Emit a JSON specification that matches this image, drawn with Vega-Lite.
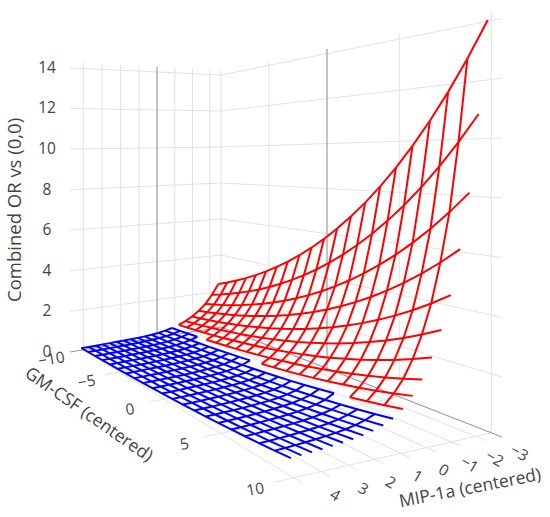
{
  "$schema": "https://vega.github.io/schema/vega-lite/v6.json",
  "width": 550,
  "height": 517,
  "padding": 0,
  "autosize": {"type": "none"},
  "background": "white",
  "config": {"view": {"stroke": null}},
  "datasets": {
    "surf": [
      {"g":-10,"m":-3.5,"o":2.411},{"g":-9,"m":-3.5,"o":2.632},{"g":-8,"m":-3.5,"o":2.875},{"g":-7,"m":-3.5,"o":3.139},{"g":-6,"m":-3.5,"o":3.428},{"g":-5,"m":-3.5,"o":3.743},{"g":-4,"m":-3.5,"o":4.088},{"g":-3,"m":-3.5,"o":4.464},{"g":-2,"m":-3.5,"o":4.874},{"g":-1,"m":-3.5,"o":5.323},{"g":0,"m":-3.5,"o":5.812},{"g":1,"m":-3.5,"o":6.347},{"g":2,"m":-3.5,"o":6.930},{"g":3,"m":-3.5,"o":7.568},{"g":4,"m":-3.5,"o":8.264},{"g":5,"m":-3.5,"o":9.024},{"g":6,"m":-3.5,"o":9.854},{"g":7,"m":-3.5,"o":10.761},{"g":8,"m":-3.5,"o":11.751},{"g":9,"m":-3.5,"o":12.832},{"g":10,"m":-3.5,"o":14.012},
      {"g":-10,"m":-3.12,"o":1.859},{"g":-9,"m":-3.12,"o":2.030},{"g":-8,"m":-3.12,"o":2.217},{"g":-7,"m":-3.12,"o":2.421},{"g":-6,"m":-3.12,"o":2.643},{"g":-5,"m":-3.12,"o":2.886},{"g":-4,"m":-3.12,"o":3.152},{"g":-3,"m":-3.12,"o":3.442},{"g":-2,"m":-3.12,"o":3.759},{"g":-1,"m":-3.12,"o":4.105},{"g":0,"m":-3.12,"o":4.482},{"g":1,"m":-3.12,"o":4.894},{"g":2,"m":-3.12,"o":5.344},{"g":3,"m":-3.12,"o":5.836},{"g":4,"m":-3.12,"o":6.373},{"g":5,"m":-3.12,"o":6.959},{"g":6,"m":-3.12,"o":7.599},{"g":7,"m":-3.12,"o":8.298},{"g":8,"m":-3.12,"o":9.062},{"g":9,"m":-3.12,"o":9.895},{"g":10,"m":-3.12,"o":10.806},
      {"g":-10,"m":-2.74,"o":1.405},{"g":-9,"m":-2.74,"o":1.534},{"g":-8,"m":-2.74,"o":1.675},{"g":-7,"m":-2.74,"o":1.829},{"g":-6,"m":-2.74,"o":1.998},{"g":-5,"m":-2.74,"o":2.181},{"g":-4,"m":-2.74,"o":2.382},{"g":-3,"m":-2.74,"o":2.601},{"g":-2,"m":-2.74,"o":2.840},{"g":-1,"m":-2.74,"o":3.102},{"g":0,"m":-2.74,"o":3.387},{"g":1,"m":-2.74,"o":3.699},{"g":2,"m":-2.74,"o":4.039},{"g":3,"m":-2.74,"o":4.410},{"g":4,"m":-2.74,"o":4.816},{"g":5,"m":-2.74,"o":5.259},{"g":6,"m":-2.74,"o":5.743},{"g":7,"m":-2.74,"o":6.271},{"g":8,"m":-2.74,"o":6.848},{"g":9,"m":-2.74,"o":7.478},{"g":10,"m":-2.74,"o":8.166},
      {"g":-10,"m":-2.36,"o":1.083},{"g":-9,"m":-2.36,"o":1.183},{"g":-8,"m":-2.36,"o":1.292},{"g":-7,"m":-2.36,"o":1.411},{"g":-6,"m":-2.36,"o":1.541},{"g":-5,"m":-2.36,"o":1.682},{"g":-4,"m":-2.36,"o":1.837},{"g":-3,"m":-2.36,"o":2.006},{"g":-2,"m":-2.36,"o":2.190},{"g":-1,"m":-2.36,"o":2.392},{"g":0,"m":-2.36,"o":2.612},{"g":1,"m":-2.36,"o":2.852},{"g":2,"m":-2.36,"o":3.115},{"g":3,"m":-2.36,"o":3.401},{"g":4,"m":-2.36,"o":3.714},{"g":5,"m":-2.36,"o":4.056},{"g":6,"m":-2.36,"o":4.429},{"g":7,"m":-2.36,"o":4.836},{"g":8,"m":-2.36,"o":5.281},{"g":9,"m":-2.36,"o":5.767},{"g":10,"m":-2.36,"o":6.297},
      {"g":-10,"m":-1.98,"o":0.827},{"g":-9,"m":-1.98,"o":0.903},{"g":-8,"m":-1.98,"o":0.986},{"g":-7,"m":-1.98,"o":1.077},{"g":-6,"m":-1.98,"o":1.176},{"g":-5,"m":-1.98,"o":1.284},{"g":-4,"m":-1.98,"o":1.402},{"g":-3,"m":-1.98,"o":1.531},{"g":-2,"m":-1.98,"o":1.672},{"g":-1,"m":-1.98,"o":1.826},{"g":0,"m":-1.98,"o":1.994},{"g":1,"m":-1.98,"o":2.177},{"g":2,"m":-1.98,"o":2.378},{"g":3,"m":-1.98,"o":2.596},{"g":4,"m":-1.98,"o":2.835},{"g":5,"m":-1.98,"o":3.096},{"g":6,"m":-1.98,"o":3.381},{"g":7,"m":-1.98,"o":3.692},{"g":8,"m":-1.98,"o":4.031},{"g":9,"m":-1.98,"o":4.402},{"g":10,"m":-1.98,"o":4.807},
      {"g":-10,"m":-1.6,"o":0.638},{"g":-9,"m":-1.6,"o":0.696},{"g":-8,"m":-1.6,"o":0.760},{"g":-7,"m":-1.6,"o":0.830},{"g":-6,"m":-1.6,"o":0.907},{"g":-5,"m":-1.6,"o":0.990},{"g":-4,"m":-1.6,"o":1.081},{"g":-3,"m":-1.6,"o":1.180},{"g":-2,"m":-1.6,"o":1.289},{"g":-1,"m":-1.6,"o":1.408},{"g":0,"m":-1.6,"o":1.537},{"g":1,"m":-1.6,"o":1.678},{"g":2,"m":-1.6,"o":1.833},{"g":3,"m":-1.6,"o":2.001},{"g":4,"m":-1.6,"o":2.185},{"g":5,"m":-1.6,"o":2.386},{"g":6,"m":-1.6,"o":2.606},{"g":7,"m":-1.6,"o":2.846},{"g":8,"m":-1.6,"o":3.107},{"g":9,"m":-1.6,"o":3.393},{"g":10,"m":-1.6,"o":3.706},
      {"g":-10,"m":-1.22,"o":0.492},{"g":-9,"m":-1.22,"o":0.537},{"g":-8,"m":-1.22,"o":0.586},{"g":-7,"m":-1.22,"o":0.640},{"g":-6,"m":-1.22,"o":0.699},{"g":-5,"m":-1.22,"o":0.763},{"g":-4,"m":-1.22,"o":0.833},{"g":-3,"m":-1.22,"o":0.910},{"g":-2,"m":-1.22,"o":0.994},{"g":-1,"m":-1.22,"o":1.085},{"g":0,"m":-1.22,"o":1.185},{"g":1,"m":-1.22,"o":1.294},{"g":2,"m":-1.22,"o":1.413},{"g":3,"m":-1.22,"o":1.543},{"g":4,"m":-1.22,"o":1.685},{"g":5,"m":-1.22,"o":1.840},{"g":6,"m":-1.22,"o":2.009},{"g":7,"m":-1.22,"o":2.194},{"g":8,"m":-1.22,"o":2.396},{"g":9,"m":-1.22,"o":2.616},{"g":10,"m":-1.22,"o":2.857},
      {"g":-10,"m":-0.84,"o":0.379},{"g":-9,"m":-0.84,"o":0.414},{"g":-8,"m":-0.84,"o":0.452},{"g":-7,"m":-0.84,"o":0.494},{"g":-6,"m":-0.84,"o":0.539},{"g":-5,"m":-0.84,"o":0.589},{"g":-4,"m":-0.84,"o":0.643},{"g":-3,"m":-0.84,"o":0.702},{"g":-2,"m":-0.84,"o":0.766},{"g":-1,"m":-0.84,"o":0.837},{"g":0,"m":-0.84,"o":0.914},{"g":1,"m":-0.84,"o":0.998},{"g":2,"m":-0.84,"o":1.090},{"g":3,"m":-0.84,"o":1.190},{"g":4,"m":-0.84,"o":1.300},{"g":5,"m":-0.84,"o":1.419},{"g":6,"m":-0.84,"o":1.550},{"g":7,"m":-0.84,"o":1.692},{"g":8,"m":-0.84,"o":1.848},{"g":9,"m":-0.84,"o":2.018},{"g":10,"m":-0.84,"o":2.204},
      {"g":-10,"m":-0.46,"o":0.298},{"g":-9,"m":-0.46,"o":0.326},{"g":-8,"m":-0.46,"o":0.356},{"g":-7,"m":-0.46,"o":0.388},{"g":-6,"m":-0.46,"o":0.424},{"g":-5,"m":-0.46,"o":0.463},{"g":-4,"m":-0.46,"o":0.506},{"g":-3,"m":-0.46,"o":0.552},{"g":-2,"m":-0.46,"o":0.603},{"g":-1,"m":-0.46,"o":0.658},{"g":0,"m":-0.46,"o":0.719},{"g":1,"m":-0.46,"o":0.785},{"g":2,"m":-0.46,"o":0.857},{"g":3,"m":-0.46,"o":0.936},{"g":4,"m":-0.46,"o":1.022},{"g":5,"m":-0.46,"o":1.116},{"g":6,"m":-0.46,"o":1.219},{"g":7,"m":-0.46,"o":1.331},{"g":8,"m":-0.46,"o":1.454},{"g":9,"m":-0.46,"o":1.587},{"g":10,"m":-0.46,"o":1.733},
      {"g":-10,"m":-0.08,"o":0.237},{"g":-9,"m":-0.08,"o":0.259},{"g":-8,"m":-0.08,"o":0.282},{"g":-7,"m":-0.08,"o":0.308},{"g":-6,"m":-0.08,"o":0.337},{"g":-5,"m":-0.08,"o":0.368},{"g":-4,"m":-0.08,"o":0.402},{"g":-3,"m":-0.08,"o":0.439},{"g":-2,"m":-0.08,"o":0.479},{"g":-1,"m":-0.08,"o":0.523},{"g":0,"m":-0.08,"o":0.571},{"g":1,"m":-0.08,"o":0.624},{"g":2,"m":-0.08,"o":0.681},{"g":3,"m":-0.08,"o":0.744},{"g":4,"m":-0.08,"o":0.812},{"g":5,"m":-0.08,"o":0.887},{"g":6,"m":-0.08,"o":0.968},{"g":7,"m":-0.08,"o":1.057},{"g":8,"m":-0.08,"o":1.154},{"g":9,"m":-0.08,"o":1.261},{"g":10,"m":-0.08,"o":1.377},
      {"g":-10,"m":0.3,"o":0.194},{"g":-9,"m":0.3,"o":0.212},{"g":-8,"m":0.3,"o":0.231},{"g":-7,"m":0.3,"o":0.253},{"g":-6,"m":0.3,"o":0.276},{"g":-5,"m":0.3,"o":0.301},{"g":-4,"m":0.3,"o":0.329},{"g":-3,"m":0.3,"o":0.359},{"g":-2,"m":0.3,"o":0.392},{"g":-1,"m":0.3,"o":0.429},{"g":0,"m":0.3,"o":0.468},{"g":1,"m":0.3,"o":0.511},{"g":2,"m":0.3,"o":0.558},{"g":3,"m":0.3,"o":0.609},{"g":4,"m":0.3,"o":0.665},{"g":5,"m":0.3,"o":0.727},{"g":6,"m":0.3,"o":0.793},{"g":7,"m":0.3,"o":0.866},{"g":8,"m":0.3,"o":0.946},{"g":9,"m":0.3,"o":1.033},{"g":10,"m":0.3,"o":1.128},
      {"g":-10,"m":0.68,"o":0.169},{"g":-9,"m":0.68,"o":0.184},{"g":-8,"m":0.68,"o":0.201},{"g":-7,"m":0.68,"o":0.220},{"g":-6,"m":0.68,"o":0.240},{"g":-5,"m":0.68,"o":0.262},{"g":-4,"m":0.68,"o":0.286},{"g":-3,"m":0.68,"o":0.313},{"g":-2,"m":0.68,"o":0.341},{"g":-1,"m":0.68,"o":0.373},{"g":0,"m":0.68,"o":0.407},{"g":1,"m":0.68,"o":0.444},{"g":2,"m":0.68,"o":0.485},{"g":3,"m":0.68,"o":0.530},{"g":4,"m":0.68,"o":0.579},{"g":5,"m":0.68,"o":0.632},{"g":6,"m":0.68,"o":0.690},{"g":7,"m":0.68,"o":0.754},{"g":8,"m":0.68,"o":0.823},{"g":9,"m":0.68,"o":0.899},{"g":10,"m":0.68,"o":0.981},
      {"g":-10,"m":1.06,"o":0.151},{"g":-9,"m":1.06,"o":0.165},{"g":-8,"m":1.06,"o":0.180},{"g":-7,"m":1.06,"o":0.197},{"g":-6,"m":1.06,"o":0.215},{"g":-5,"m":1.06,"o":0.234},{"g":-4,"m":1.06,"o":0.256},{"g":-3,"m":1.06,"o":0.280},{"g":-2,"m":1.06,"o":0.305},{"g":-1,"m":1.06,"o":0.333},{"g":0,"m":1.06,"o":0.364},{"g":1,"m":1.06,"o":0.397},{"g":2,"m":1.06,"o":0.434},{"g":3,"m":1.06,"o":0.474},{"g":4,"m":1.06,"o":0.518},{"g":5,"m":1.06,"o":0.565},{"g":6,"m":1.06,"o":0.617},{"g":7,"m":1.06,"o":0.674},{"g":8,"m":1.06,"o":0.736},{"g":9,"m":1.06,"o":0.804},{"g":10,"m":1.06,"o":0.878},
      {"g":-10,"m":1.44,"o":0.138},{"g":-9,"m":1.44,"o":0.151},{"g":-8,"m":1.44,"o":0.165},{"g":-7,"m":1.44,"o":0.180},{"g":-6,"m":1.44,"o":0.196},{"g":-5,"m":1.44,"o":0.214},{"g":-4,"m":1.44,"o":0.234},{"g":-3,"m":1.44,"o":0.256},{"g":-2,"m":1.44,"o":0.279},{"g":-1,"m":1.44,"o":0.305},{"g":0,"m":1.44,"o":0.333},{"g":1,"m":1.44,"o":0.364},{"g":2,"m":1.44,"o":0.397},{"g":3,"m":1.44,"o":0.434},{"g":4,"m":1.44,"o":0.473},{"g":5,"m":1.44,"o":0.517},{"g":6,"m":1.44,"o":0.565},{"g":7,"m":1.44,"o":0.617},{"g":8,"m":1.44,"o":0.673},{"g":9,"m":1.44,"o":0.735},{"g":10,"m":1.44,"o":0.803},
      {"g":-10,"m":1.82,"o":0.129},{"g":-9,"m":1.82,"o":0.140},{"g":-8,"m":1.82,"o":0.153},{"g":-7,"m":1.82,"o":0.167},{"g":-6,"m":1.82,"o":0.183},{"g":-5,"m":1.82,"o":0.200},{"g":-4,"m":1.82,"o":0.218},{"g":-3,"m":1.82,"o":0.238},{"g":-2,"m":1.82,"o":0.260},{"g":-1,"m":1.82,"o":0.284},{"g":0,"m":1.82,"o":0.310},{"g":1,"m":1.82,"o":0.339},{"g":2,"m":1.82,"o":0.370},{"g":3,"m":1.82,"o":0.404},{"g":4,"m":1.82,"o":0.441},{"g":5,"m":1.82,"o":0.481},{"g":6,"m":1.82,"o":0.526},{"g":7,"m":1.82,"o":0.574},{"g":8,"m":1.82,"o":0.627},{"g":9,"m":1.82,"o":0.684},{"g":10,"m":1.82,"o":0.747},
      {"g":-10,"m":2.2,"o":0.121},{"g":-9,"m":2.2,"o":0.132},{"g":-8,"m":2.2,"o":0.144},{"g":-7,"m":2.2,"o":0.158},{"g":-6,"m":2.2,"o":0.172},{"g":-5,"m":2.2,"o":0.188},{"g":-4,"m":2.2,"o":0.205},{"g":-3,"m":2.2,"o":0.224},{"g":-2,"m":2.2,"o":0.245},{"g":-1,"m":2.2,"o":0.267},{"g":0,"m":2.2,"o":0.292},{"g":1,"m":2.2,"o":0.319},{"g":2,"m":2.2,"o":0.348},{"g":3,"m":2.2,"o":0.380},{"g":4,"m":2.2,"o":0.415},{"g":5,"m":2.2,"o":0.453},{"g":6,"m":2.2,"o":0.495},{"g":7,"m":2.2,"o":0.541},{"g":8,"m":2.2,"o":0.590},{"g":9,"m":2.2,"o":0.645},{"g":10,"m":2.2,"o":0.704},
      {"g":-10,"m":2.58,"o":0.115},{"g":-9,"m":2.58,"o":0.126},{"g":-8,"m":2.58,"o":0.137},{"g":-7,"m":2.58,"o":0.150},{"g":-6,"m":2.58,"o":0.164},{"g":-5,"m":2.58,"o":0.179},{"g":-4,"m":2.58,"o":0.196},{"g":-3,"m":2.58,"o":0.214},{"g":-2,"m":2.58,"o":0.233},{"g":-1,"m":2.58,"o":0.255},{"g":0,"m":2.58,"o":0.278},{"g":1,"m":2.58,"o":0.304},{"g":2,"m":2.58,"o":0.331},{"g":3,"m":2.58,"o":0.362},{"g":4,"m":2.58,"o":0.395},{"g":5,"m":2.58,"o":0.432},{"g":6,"m":2.58,"o":0.471},{"g":7,"m":2.58,"o":0.515},{"g":8,"m":2.58,"o":0.562},{"g":9,"m":2.58,"o":0.614},{"g":10,"m":2.58,"o":0.670},
      {"g":-10,"m":2.96,"o":0.110},{"g":-9,"m":2.96,"o":0.120},{"g":-8,"m":2.96,"o":0.131},{"g":-7,"m":2.96,"o":0.143},{"g":-6,"m":2.96,"o":0.156},{"g":-5,"m":2.96,"o":0.170},{"g":-4,"m":2.96,"o":0.186},{"g":-3,"m":2.96,"o":0.203},{"g":-2,"m":2.96,"o":0.221},{"g":-1,"m":2.96,"o":0.242},{"g":0,"m":2.96,"o":0.264},{"g":1,"m":2.96,"o":0.288},{"g":2,"m":2.96,"o":0.315},{"g":3,"m":2.96,"o":0.344},{"g":4,"m":2.96,"o":0.375},{"g":5,"m":2.96,"o":0.410},{"g":6,"m":2.96,"o":0.448},{"g":7,"m":2.96,"o":0.489},{"g":8,"m":2.96,"o":0.534},{"g":9,"m":2.96,"o":0.583},{"g":10,"m":2.96,"o":0.636},
      {"g":-10,"m":3.34,"o":0.105},{"g":-9,"m":3.34,"o":0.115},{"g":-8,"m":3.34,"o":0.126},{"g":-7,"m":3.34,"o":0.137},{"g":-6,"m":3.34,"o":0.150},{"g":-5,"m":3.34,"o":0.164},{"g":-4,"m":3.34,"o":0.179},{"g":-3,"m":3.34,"o":0.195},{"g":-2,"m":3.34,"o":0.213},{"g":-1,"m":3.34,"o":0.233},{"g":0,"m":3.34,"o":0.254},{"g":1,"m":3.34,"o":0.277},{"g":2,"m":3.34,"o":0.303},{"g":3,"m":3.34,"o":0.331},{"g":4,"m":3.34,"o":0.361},{"g":5,"m":3.34,"o":0.394},{"g":6,"m":3.34,"o":0.431},{"g":7,"m":3.34,"o":0.470},{"g":8,"m":3.34,"o":0.514},{"g":9,"m":3.34,"o":0.561},{"g":10,"m":3.34,"o":0.612},
      {"g":-10,"m":3.72,"o":0.101},{"g":-9,"m":3.72,"o":0.111},{"g":-8,"m":3.72,"o":0.121},{"g":-7,"m":3.72,"o":0.132},{"g":-6,"m":3.72,"o":0.144},{"g":-5,"m":3.72,"o":0.157},{"g":-4,"m":3.72,"o":0.172},{"g":-3,"m":3.72,"o":0.187},{"g":-2,"m":3.72,"o":0.205},{"g":-1,"m":3.72,"o":0.223},{"g":0,"m":3.72,"o":0.244},{"g":1,"m":3.72,"o":0.266},{"g":2,"m":3.72,"o":0.291},{"g":3,"m":3.72,"o":0.318},{"g":4,"m":3.72,"o":0.347},{"g":5,"m":3.72,"o":0.379},{"g":6,"m":3.72,"o":0.414},{"g":7,"m":3.72,"o":0.452},{"g":8,"m":3.72,"o":0.493},{"g":9,"m":3.72,"o":0.539},{"g":10,"m":3.72,"o":0.588},
      {"g":-10,"m":4.1,"o":0.098},{"g":-9,"m":4.1,"o":0.107},{"g":-8,"m":4.1,"o":0.117},{"g":-7,"m":4.1,"o":0.128},{"g":-6,"m":4.1,"o":0.140},{"g":-5,"m":4.1,"o":0.153},{"g":-4,"m":4.1,"o":0.167},{"g":-3,"m":4.1,"o":0.182},{"g":-2,"m":4.1,"o":0.199},{"g":-1,"m":4.1,"o":0.217},{"g":0,"m":4.1,"o":0.237},{"g":1,"m":4.1,"o":0.259},{"g":2,"m":4.1,"o":0.283},{"g":3,"m":4.1,"o":0.309},{"g":4,"m":4.1,"o":0.337},{"g":5,"m":4.1,"o":0.368},{"g":6,"m":4.1,"o":0.402},{"g":7,"m":4.1,"o":0.439},{"g":8,"m":4.1,"o":0.479},{"g":9,"m":4.1,"o":0.523},{"g":10,"m":4.1,"o":0.571}
    ],
    "grid": [
      {"id":"lv-3","k":"g","g":-10,"m":-3,"z":0},{"id":"lv-3","k":"g","g":-10,"m":-3,"z":14.3},
      {"id":"lv-2","k":"g","g":-10,"m":-2,"z":0},{"id":"lv-2","k":"g","g":-10,"m":-2,"z":14.3},
      {"id":"lv-1","k":"g","g":-10,"m":-1,"z":0},{"id":"lv-1","k":"g","g":-10,"m":-1,"z":14.3},
      {"id":"lv0","k":"z","g":-10,"m":0,"z":0},{"id":"lv0","k":"z","g":-10,"m":0,"z":14.3},
      {"id":"lv1","k":"g","g":-10,"m":1,"z":0},{"id":"lv1","k":"g","g":-10,"m":1,"z":14.3},
      {"id":"lv2","k":"g","g":-10,"m":2,"z":0},{"id":"lv2","k":"g","g":-10,"m":2,"z":14.3},
      {"id":"lv3","k":"g","g":-10,"m":3,"z":0},{"id":"lv3","k":"g","g":-10,"m":3,"z":14.3},
      {"id":"lv4","k":"g","g":-10,"m":4,"z":0},{"id":"lv4","k":"g","g":-10,"m":4,"z":14.3},
      {"id":"lh0","k":"z","g":-10,"m":-3.65,"z":0},{"id":"lh0","k":"z","g":-10,"m":4.7,"z":0},
      {"id":"lh2","k":"g","g":-10,"m":-3.65,"z":2},{"id":"lh2","k":"g","g":-10,"m":4.7,"z":2},
      {"id":"lh4","k":"g","g":-10,"m":-3.65,"z":4},{"id":"lh4","k":"g","g":-10,"m":4.7,"z":4},
      {"id":"lh6","k":"g","g":-10,"m":-3.65,"z":6},{"id":"lh6","k":"g","g":-10,"m":4.7,"z":6},
      {"id":"lh8","k":"g","g":-10,"m":-3.65,"z":8},{"id":"lh8","k":"g","g":-10,"m":4.7,"z":8},
      {"id":"lh10","k":"g","g":-10,"m":-3.65,"z":10},{"id":"lh10","k":"g","g":-10,"m":4.7,"z":10},
      {"id":"lh12","k":"g","g":-10,"m":-3.65,"z":12},{"id":"lh12","k":"g","g":-10,"m":4.7,"z":12},
      {"id":"lh14","k":"g","g":-10,"m":-3.65,"z":14},{"id":"lh14","k":"g","g":-10,"m":4.7,"z":14},
      {"id":"rv-10","k":"g","g":-10,"m":-3.65,"z":0},{"id":"rv-10","k":"g","g":-10,"m":-3.65,"z":14.3},
      {"id":"rv-5","k":"g","g":-5,"m":-3.65,"z":0},{"id":"rv-5","k":"g","g":-5,"m":-3.65,"z":14.3},
      {"id":"rv0","k":"z","g":0,"m":-3.65,"z":0},{"id":"rv0","k":"z","g":0,"m":-3.65,"z":14.3},
      {"id":"rv5","k":"g","g":5,"m":-3.65,"z":0},{"id":"rv5","k":"g","g":5,"m":-3.65,"z":14.3},
      {"id":"rv10","k":"g","g":10,"m":-3.65,"z":0},{"id":"rv10","k":"g","g":10,"m":-3.65,"z":14.3},
      {"id":"rh0","k":"z","g":-10,"m":-3.65,"z":0},{"id":"rh0","k":"z","g":10.5,"m":-3.65,"z":0},
      {"id":"rh2","k":"g","g":-10,"m":-3.65,"z":2},{"id":"rh2","k":"g","g":10.5,"m":-3.65,"z":2},
      {"id":"rh4","k":"g","g":-10,"m":-3.65,"z":4},{"id":"rh4","k":"g","g":10.5,"m":-3.65,"z":4},
      {"id":"rh6","k":"g","g":-10,"m":-3.65,"z":6},{"id":"rh6","k":"g","g":10.5,"m":-3.65,"z":6},
      {"id":"rh8","k":"g","g":-10,"m":-3.65,"z":8},{"id":"rh8","k":"g","g":10.5,"m":-3.65,"z":8},
      {"id":"rh10","k":"g","g":-10,"m":-3.65,"z":10},{"id":"rh10","k":"g","g":10.5,"m":-3.65,"z":10},
      {"id":"rh12","k":"g","g":-10,"m":-3.65,"z":12},{"id":"rh12","k":"g","g":10.5,"m":-3.65,"z":12},
      {"id":"rh14","k":"g","g":-10,"m":-3.65,"z":14},{"id":"rh14","k":"g","g":10.5,"m":-3.65,"z":14},
      {"id":"fg-5","k":"g","g":-5,"m":-3.65,"z":0},{"id":"fg-5","k":"g","g":-5,"m":4.7,"z":0},
      {"id":"fg0","k":"g","g":0,"m":-3.65,"z":0},{"id":"fg0","k":"g","g":0,"m":4.7,"z":0},
      {"id":"fg5","k":"g","g":5,"m":-3.65,"z":0},{"id":"fg5","k":"g","g":5,"m":4.7,"z":0},
      {"id":"fg10","k":"g","g":10,"m":-3.65,"z":0},{"id":"fg10","k":"g","g":10,"m":4.7,"z":0},
      {"id":"fm-3","k":"g","g":-10,"m":-3,"z":0},{"id":"fm-3","k":"g","g":10.5,"m":-3,"z":0},
      {"id":"fm-2","k":"g","g":-10,"m":-2,"z":0},{"id":"fm-2","k":"g","g":10.5,"m":-2,"z":0},
      {"id":"fm-1","k":"g","g":-10,"m":-1,"z":0},{"id":"fm-1","k":"g","g":10.5,"m":-1,"z":0},
      {"id":"fm0","k":"g","g":-10,"m":0,"z":0},{"id":"fm0","k":"g","g":10.5,"m":0,"z":0},
      {"id":"fm1","k":"g","g":-10,"m":1,"z":0},{"id":"fm1","k":"g","g":10.5,"m":1,"z":0},
      {"id":"fm2","k":"g","g":-10,"m":2,"z":0},{"id":"fm2","k":"g","g":10.5,"m":2,"z":0},
      {"id":"fm3","k":"g","g":-10,"m":3,"z":0},{"id":"fm3","k":"g","g":10.5,"m":3,"z":0},
      {"id":"fm4","k":"g","g":-10,"m":4,"z":0},{"id":"fm4","k":"g","g":10.5,"m":4,"z":0}
    ]
  },
  "layer": [
    {
      "data": {"name": "grid"},
      "transform": [
        {"filter": "datum.k == 'g'"},
        {"calculate": "(datum.g + 10) / 20.5", "as": "u"},
        {"calculate": "(4.7 - datum.m) / 8.35", "as": "v"},
        {"calculate": "0.947 - 0.364 * datum.u + 0.053 * datum.v", "as": "w"},
        {"calculate": "(66.29 + 98.27 * datum.u + 154.71 * datum.v) / datum.w", "as": "px"},
        {"calculate": "(333.34 - 49.07 * datum.u - 6.34 * datum.v) / datum.w - datum.z * 18 / (0.887 - 0.398 * datum.u + 0.113 * datum.v)", "as": "py"}
      ],
      "mark": {"type": "line", "color": "#e2e2e2", "strokeWidth": 1},
      "encoding": {
        "x": {"field": "px", "type": "quantitative", "scale": {"domain": [0, 550], "nice": false, "zero": false}, "axis": null},
        "y": {"field": "py", "type": "quantitative", "scale": {"domain": [0, 517], "nice": false, "zero": false, "reverse": true}, "axis": null},
        "detail": {"field": "id", "type": "nominal"}
      }
    },
    {
      "data": {"name": "grid"},
      "transform": [
        {"filter": "datum.k == 'z'"},
        {"calculate": "(datum.g + 10) / 20.5", "as": "u"},
        {"calculate": "(4.7 - datum.m) / 8.35", "as": "v"},
        {"calculate": "0.947 - 0.364 * datum.u + 0.053 * datum.v", "as": "w"},
        {"calculate": "(66.29 + 98.27 * datum.u + 154.71 * datum.v) / datum.w", "as": "px"},
        {"calculate": "(333.34 - 49.07 * datum.u - 6.34 * datum.v) / datum.w - datum.z * 18 / (0.887 - 0.398 * datum.u + 0.113 * datum.v)", "as": "py"}
      ],
      "mark": {"type": "line", "color": "#9c9c9c", "strokeWidth": 1.2},
      "encoding": {
        "x": {"field": "px", "type": "quantitative", "scale": {"domain": [0, 550], "nice": false, "zero": false}, "axis": null},
        "y": {"field": "py", "type": "quantitative", "scale": {"domain": [0, 517], "nice": false, "zero": false, "reverse": true}, "axis": null},
        "detail": {"field": "id", "type": "nominal"}
      }
    },
    {
      "data": {"name": "surf"},
      "transform": [
        {"calculate": "datum.o", "as": "z"},
        {"calculate": "(datum.g + 10) / 20.5", "as": "u"},
        {"calculate": "(4.7 - datum.m) / 8.35", "as": "v"},
        {"calculate": "0.947 - 0.364 * datum.u + 0.053 * datum.v", "as": "w"},
        {"calculate": "(66.29 + 98.27 * datum.u + 154.71 * datum.v) / datum.w", "as": "px"},
        {"calculate": "(333.34 - 49.07 * datum.u - 6.34 * datum.v) / datum.w - datum.z * 18 / (0.887 - 0.398 * datum.u + 0.113 * datum.v)", "as": "py"},
        {"calculate": "datum.m < -0.45 + 0.057 * datum.g ? 'red' : 'blue'", "as": "zone"}
      ],
      "mark": {"type": "line", "strokeWidth": 2},
      "encoding": {
        "x": {"field": "px", "type": "quantitative", "scale": {"domain": [0, 550], "nice": false, "zero": false}, "axis": null},
        "y": {"field": "py", "type": "quantitative", "scale": {"domain": [0, 517], "nice": false, "zero": false, "reverse": true}, "axis": null},
        "color": {"field": "zone", "type": "nominal", "scale": {"domain": ["blue", "red"], "range": ["#0000ff", "#ff0000"]}, "legend": null},
        "detail": {"field": "m", "type": "nominal"},
        "order": {"field": "g", "type": "quantitative"}
      }
    },
    {
      "data": {"name": "surf"},
      "transform": [
        {"filter": "datum.g < 10"},
        {"calculate": "datum.o", "as": "z"},
        {"calculate": "(datum.g + 10) / 20.5", "as": "u"},
        {"calculate": "(4.7 - datum.m) / 8.35", "as": "v"},
        {"calculate": "0.947 - 0.364 * datum.u + 0.053 * datum.v", "as": "w"},
        {"calculate": "(66.29 + 98.27 * datum.u + 154.71 * datum.v) / datum.w", "as": "px"},
        {"calculate": "(333.34 - 49.07 * datum.u - 6.34 * datum.v) / datum.w - datum.z * 18 / (0.887 - 0.398 * datum.u + 0.113 * datum.v)", "as": "py"},
        {"calculate": "datum.m < -0.45 + 0.057 * datum.g ? 'red' : 'blue'", "as": "zone"}
      ],
      "mark": {"type": "line", "strokeWidth": 2},
      "encoding": {
        "x": {"field": "px", "type": "quantitative", "scale": {"domain": [0, 550], "nice": false, "zero": false}, "axis": null},
        "y": {"field": "py", "type": "quantitative", "scale": {"domain": [0, 517], "nice": false, "zero": false, "reverse": true}, "axis": null},
        "color": {"field": "zone", "type": "nominal", "scale": {"domain": ["blue", "red"], "range": ["#0000ff", "#ff0000"]}, "legend": null},
        "detail": {"field": "g", "type": "nominal"},
        "order": {"field": "m", "type": "quantitative"}
      }
    },
    {
      "data": {"values": [{"v":0},{"v":2},{"v":4},{"v":6},{"v":8},{"v":10},{"v":12},{"v":14}]},
      "transform": [
        {"calculate": "-10", "as": "g"},
        {"calculate": "4.7", "as": "m"},
        {"calculate": "datum.v", "as": "z"},
        {"calculate": "(datum.g + 10) / 20.5", "as": "u"},
        {"calculate": "(4.7 - datum.m) / 8.35", "as": "v2"},
        {"calculate": "0.947 - 0.364 * datum.u + 0.053 * datum.v2", "as": "w"},
        {"calculate": "(66.29 + 98.27 * datum.u + 154.71 * datum.v2) / datum.w", "as": "px"},
        {"calculate": "(333.34 - 49.07 * datum.u - 6.34 * datum.v2) / datum.w - datum.z * 18 / (0.887 - 0.398 * datum.u + 0.113 * datum.v2)", "as": "py"}
      ],
      "mark": {"type": "text", "font": "Open Sans", "fontSize": 15.5, "color": "#444444", "align": "center", "baseline": "middle", "dx": -23},
      "encoding": {
        "x": {"field": "px", "type": "quantitative", "scale": {"domain": [0, 550], "nice": false, "zero": false}, "axis": null},
        "y": {"field": "py", "type": "quantitative", "scale": {"domain": [0, 517], "nice": false, "zero": false, "reverse": true}, "axis": null},
        "text": {"field": "v", "type": "quantitative", "format": "d"}
      }
    },
    {
      "data": {"values": [{"v":-10},{"v":-5},{"v":0},{"v":5},{"v":10}]},
      "transform": [
        {"calculate": "datum.v", "as": "g"},
        {"calculate": "4.7", "as": "m"},
        {"calculate": "0", "as": "z"},
        {"calculate": "(datum.g + 10) / 20.5", "as": "u"},
        {"calculate": "(4.7 - datum.m) / 8.35", "as": "v2"},
        {"calculate": "0.947 - 0.364 * datum.u + 0.053 * datum.v2", "as": "w"},
        {"calculate": "(66.29 + 98.27 * datum.u + 154.71 * datum.v2) / datum.w", "as": "px"},
        {"calculate": "(333.34 - 49.07 * datum.u - 6.34 * datum.v2) / datum.w - datum.z * 18 / (0.887 - 0.398 * datum.u + 0.113 * datum.v2)", "as": "py"}
      ],
      "mark": {"type": "text", "font": "Open Sans", "fontSize": 15.5, "color": "#444444", "align": "center", "baseline": "middle", "angle": -10, "dx": -19.5, "dy": 4},
      "encoding": {
        "x": {"field": "px", "type": "quantitative", "scale": {"domain": [0, 550], "nice": false, "zero": false}, "axis": null},
        "y": {"field": "py", "type": "quantitative", "scale": {"domain": [0, 517], "nice": false, "zero": false, "reverse": true}, "axis": null},
        "text": {"field": "v", "type": "quantitative", "format": "d"}
      }
    },
    {
      "data": {"values": [{"v":-3},{"v":-2},{"v":-1},{"v":0},{"v":1},{"v":2},{"v":3},{"v":4}]},
      "transform": [
        {"calculate": "10.5", "as": "g"},
        {"calculate": "datum.v", "as": "m"},
        {"calculate": "0", "as": "z"},
        {"calculate": "(datum.g + 10) / 20.5", "as": "u"},
        {"calculate": "(4.7 - datum.m) / 8.35", "as": "v2"},
        {"calculate": "0.947 - 0.364 * datum.u + 0.053 * datum.v2", "as": "w"},
        {"calculate": "(66.29 + 98.27 * datum.u + 154.71 * datum.v2) / datum.w", "as": "px"},
        {"calculate": "(333.34 - 49.07 * datum.u - 6.34 * datum.v2) / datum.w - datum.z * 18 / (0.887 - 0.398 * datum.u + 0.113 * datum.v2)", "as": "py"}
      ],
      "mark": {"type": "text", "font": "Open Sans", "fontSize": 15.5, "color": "#444444", "align": "center", "baseline": "middle", "angle": 30, "dx": 34.8, "dy": -5.7},
      "encoding": {
        "x": {"field": "px", "type": "quantitative", "scale": {"domain": [0, 550], "nice": false, "zero": false}, "axis": null},
        "y": {"field": "py", "type": "quantitative", "scale": {"domain": [0, 517], "nice": false, "zero": false, "reverse": true}, "axis": null},
        "text": {"field": "v", "type": "quantitative", "format": "d"}
      }
    },
    {
      "data": {"values": [{"t": "Combined OR vs (0,0)", "g": -10, "m": 4.7, "z": 7}]},
      "transform": [
        {"calculate": "(datum.g + 10) / 20.5", "as": "u"},
        {"calculate": "(4.7 - datum.m) / 8.35", "as": "v"},
        {"calculate": "0.947 - 0.364 * datum.u + 0.053 * datum.v", "as": "w"},
        {"calculate": "(66.29 + 98.27 * datum.u + 154.71 * datum.v) / datum.w", "as": "px"},
        {"calculate": "(333.34 - 49.07 * datum.u - 6.34 * datum.v) / datum.w - datum.z * 18 / (0.887 - 0.398 * datum.u + 0.113 * datum.v)", "as": "py"}
      ],
      "mark": {"type": "text", "font": "Open Sans", "fontSize": 18.5, "color": "#444444", "align": "center", "baseline": "middle", "angle": -90, "dx": 0, "dy": -55},
      "encoding": {
        "x": {"field": "px", "type": "quantitative", "scale": {"domain": [0, 550], "nice": false, "zero": false}, "axis": null},
        "y": {"field": "py", "type": "quantitative", "scale": {"domain": [0, 517], "nice": false, "zero": false, "reverse": true}, "axis": null},
        "text": {"field": "t"}
      }
    },
    {
      "data": {"values": [{"t": "GM-CSF (centered)", "g": 0, "m": 4.7, "z": 0}]},
      "transform": [
        {"calculate": "(datum.g + 10) / 20.5", "as": "u"},
        {"calculate": "(4.7 - datum.m) / 8.35", "as": "v"},
        {"calculate": "0.947 - 0.364 * datum.u + 0.053 * datum.v", "as": "w"},
        {"calculate": "(66.29 + 98.27 * datum.u + 154.71 * datum.v) / datum.w", "as": "px"},
        {"calculate": "(333.34 - 49.07 * datum.u - 6.34 * datum.v) / datum.w - datum.z * 18 / (0.887 - 0.398 * datum.u + 0.113 * datum.v)", "as": "py"}
      ],
      "mark": {"type": "text", "font": "Open Sans", "fontSize": 17.5, "color": "#444444", "align": "center", "baseline": "middle", "angle": 35, "dx": -41.7, "dy": 44.9},
      "encoding": {
        "x": {"field": "px", "type": "quantitative", "scale": {"domain": [0, 550], "nice": false, "zero": false}, "axis": null},
        "y": {"field": "py", "type": "quantitative", "scale": {"domain": [0, 517], "nice": false, "zero": false, "reverse": true}, "axis": null},
        "text": {"field": "t"}
      }
    },
    {
      "data": {"values": [{"t": "MIP-1a (centered)", "g": 10.5, "m": 0, "z": 0}]},
      "transform": [
        {"calculate": "(datum.g + 10) / 20.5", "as": "u"},
        {"calculate": "(4.7 - datum.m) / 8.35", "as": "v"},
        {"calculate": "0.947 - 0.364 * datum.u + 0.053 * datum.v", "as": "w"},
        {"calculate": "(66.29 + 98.27 * datum.u + 154.71 * datum.v) / datum.w", "as": "px"},
        {"calculate": "(333.34 - 49.07 * datum.u - 6.34 * datum.v) / datum.w - datum.z * 18 / (0.887 - 0.398 * datum.u + 0.113 * datum.v)", "as": "py"}
      ],
      "mark": {"type": "text", "font": "Open Sans", "fontSize": 17.5, "color": "#444444", "align": "center", "baseline": "middle", "angle": -11, "dx": 52.7, "dy": 41.4},
      "encoding": {
        "x": {"field": "px", "type": "quantitative", "scale": {"domain": [0, 550], "nice": false, "zero": false}, "axis": null},
        "y": {"field": "py", "type": "quantitative", "scale": {"domain": [0, 517], "nice": false, "zero": false, "reverse": true}, "axis": null},
        "text": {"field": "t"}
      }
    }
  ]
}
